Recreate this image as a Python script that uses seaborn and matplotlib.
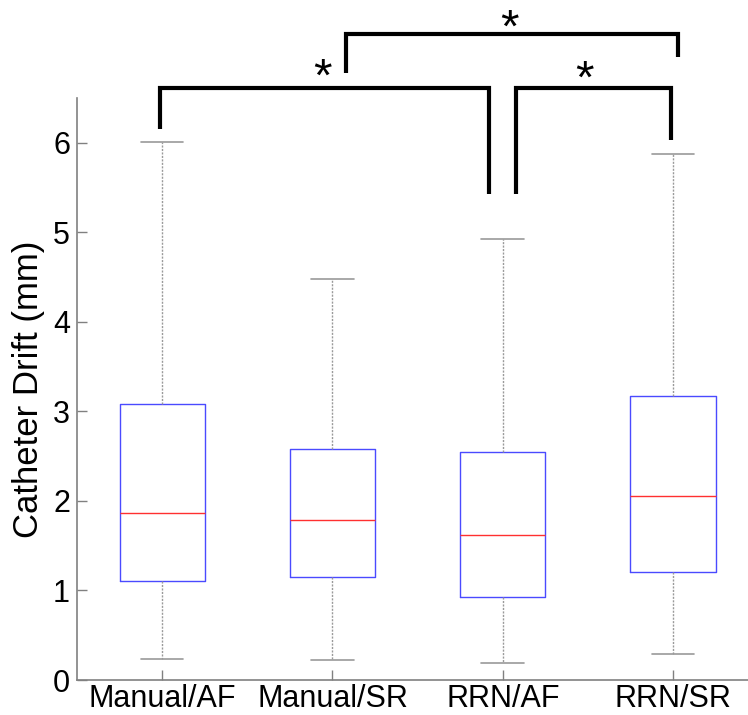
import numpy as np
import pandas as pd
import matplotlib
matplotlib.use("Agg")
import matplotlib.pyplot as plt
import seaborn as sns

# ---- data ----
groups = ["Manual/AF", "Manual/SR", "RRN/AF", "RRN/SR"]
whisker_low = [0.23, 0.22, 0.19, 0.29]
q1 = [1.11, 1.15, 0.93, 1.21]
median = [1.86, 1.79, 1.62, 2.06]
q3 = [3.08, 2.58, 2.55, 3.17]
whisker_high = [6.01, 4.48, 4.92, 5.87]
y_ticks = [0, 1, 2, 3, 4, 5, 6]
y_label = "Catheter Drift (mm)"

# significance brackets: (left x, right x, left drop y, right drop y, top y, star x, star y)
brackets = [
    (-0.01, 1.92, 6.15, 5.43, 6.61, 0.94, 6.72),
    (2.08, 2.99, 5.43, 6.03, 6.61, 2.48, 6.69),
    (1.08, 3.03, 6.78, 6.96, 7.21, 2.04, 7.26),
]

# five values per group whose min/quartiles/max are exactly the box statistics
rows = []
for g, a, b, c, d, e in zip(groups, whisker_low, q1, median, q3, whisker_high):
    for v in (a, b, c, d, e):
        rows.append({"group": g, "value": v})
df = pd.DataFrame(rows)

sns.set_theme(style="white")
plt.rcParams["font.family"] = ["Liberation Sans", "DejaVu Sans"]
plt.rcParams["text.color"] = "black"
plt.rcParams["axes.labelcolor"] = "black"
plt.rcParams["xtick.labelcolor"] = "black"
plt.rcParams["ytick.labelcolor"] = "black"

fig = plt.figure(figsize=(7.48, 7.15), dpi=100)
ax = fig.add_axes([77 / 748, 35 / 715, 1 - 77 / 748, 582 / 715])

sns.boxplot(
    data=df, x="group", y="value", order=groups, ax=ax,
    whis=(0, 100), width=0.5, fill=False, showfliers=False,
    boxprops=dict(color="#4a4aff", linewidth=1.0),
    medianprops=dict(color="#ff3030", linewidth=1.0),
    whiskerprops=dict(color="#9a9a9a", linestyle=(0, (1.5, 1.0)), linewidth=1.0),
    capprops=dict(color="#9a9a9a", linewidth=1.2),
)

ax.set_xlim(-0.5, 3.44)
ax.set_ylim(0, 6.5)
ax.set_yticks(y_ticks)
ax.set_yticklabels([str(t) for t in y_ticks])
ax.set_xlabel("")
ax.set_ylabel(y_label, fontsize=25, labelpad=6, color="black")
ax.tick_params(axis="both", which="both", direction="in", length=7, width=1,
               color="#808080", labelsize=22, labelcolor="black",
               left=True, bottom=True)
ax.tick_params(axis="x", pad=3)
ax.tick_params(axis="y", pad=5)

for side in ("top", "right"):
    ax.spines[side].set_visible(False)
for side in ("left", "bottom"):
    ax.spines[side].set_color("#808080")
    ax.spines[side].set_linewidth(1.2)

for (xl, xr, yl, yr, yt, sx, sy) in brackets:
    ax.plot([xl, xl, xr, xr], [yl, yt, yt, yr], color="black", linewidth=3.0,
            clip_on=False, solid_joinstyle="miter", solid_capstyle="butt")
    ax.text(sx, sy, "*", fontsize=34, ha="center", va="center", clip_on=False,
            color="black")

fig.savefig("out.png", dpi=100)
